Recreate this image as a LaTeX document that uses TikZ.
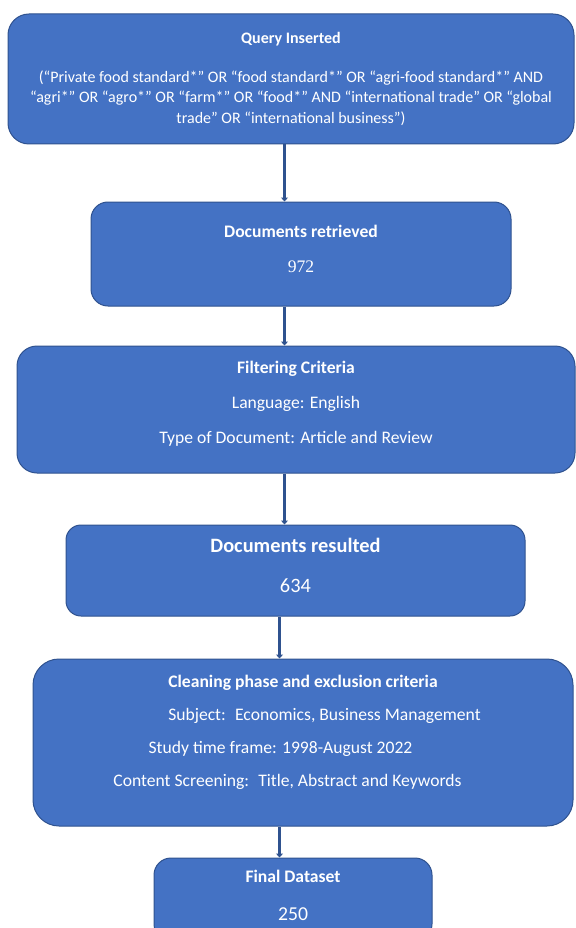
\documentclass[tikz,border=0pt]{standalone}
\usepackage{fontspec}
\setmainfont{Carlito}
\newfontfamily\numfont{Liberation Serif}
\usetikzlibrary{positioning, arrows.meta}
\definecolor{boxblue}{HTML}{4472C4}
\definecolor{edgeblue}{HTML}{2F528F}
\newcommand{\sink}[1]{\rule[-#1]{0pt}{#1}}
\tikzstyle{stage} = [rectangle, rounded corners=17pt, draw=edgeblue, line width=1pt, fill=boxblue, text=white, align=center, inner sep=0pt, font=\fontsize{17.6}{21}\selectfont]
\tikzstyle{arrow} = [draw=edgeblue, line width=2.6pt, -{Triangle[width=7pt,length=4pt]}]

\begin{document}
\begin{tikzpicture}[node distance=40pt]
\useasboundingbox (0,0) rectangle (575pt,-928pt);
% spine of the connectors
\coordinate (upper) at (284.5pt,0);
\coordinate (lower) at (279.5pt,0);

\node (query) [stage, rounded corners=21pt, minimum width=566pt, minimum height=130pt, font=\fontsize{16}{20.5}\selectfont] at (291pt,-79pt) {\textbf{Query Inserted}\\[18pt] (“Private food standard*” OR “food standard*” OR “agri-food standard*” AND\\ “agri*” OR “agro*” OR “farm*” OR “food*” AND “international trade” OR “global\\ trade” OR “international business”)};

\node (retrieved) [stage, minimum width=420pt, minimum height=104pt, below=57pt of query, xshift=10pt] {\textbf{Documents retrieved}\\[14pt] {\numfont 972}\sink{10pt}};

\node (filtering) [stage, rounded corners=20pt, minimum width=558pt, minimum height=127pt, below=39pt of retrieved, xshift=-5pt] {\textbf{Filtering Criteria}\\[14pt] Language: English\\[14pt] Type of Document: Article and Review\sink{14pt}};

\node (resulted) [stage, rounded corners=15pt, minimum width=459pt, minimum height=91pt, below=51pt of filtering, xshift=-0.5pt, font=\fontsize{20.4}{24.5}\selectfont] {\textbf{Documents resulted}\\[15pt] 634\sink{10pt}};

\node (cleaning) [stage, rounded corners=26pt, minimum width=540pt, minimum height=167pt, below=42pt of resulted, xshift=7.5pt] {\textbf{Cleaning phase and exclusion criteria}\\[12pt] \hspace*{43pt}Subject:~ Economics, Business Management\\[12pt] \hspace*{-45pt}Study time frame: 1998-August 2022\\[12pt] \hspace*{-31pt}Content Screening:~ Title, Abstract and Keywords\sink{23pt}};

\node (final) [stage, minimum width=278pt, minimum height=83pt, below=31pt of cleaning, xshift=-10pt] {\textbf{Final Dataset}\\[17pt] {\fontsize{19.7}{23}\selectfont 250}\sink{9pt}};

\draw [arrow] (query.south -| upper) -- (retrieved.north -| upper);
\draw [arrow] (retrieved.south -| upper) -- (filtering.north -| upper);
\draw [arrow] (filtering.south -| upper) -- (resulted.north -| upper);
\draw [arrow] (resulted.south -| lower) -- (cleaning.north -| lower);
\draw [arrow] (cleaning.south -| lower) -- (final.north -| lower);
\end{tikzpicture}
\end{document}
